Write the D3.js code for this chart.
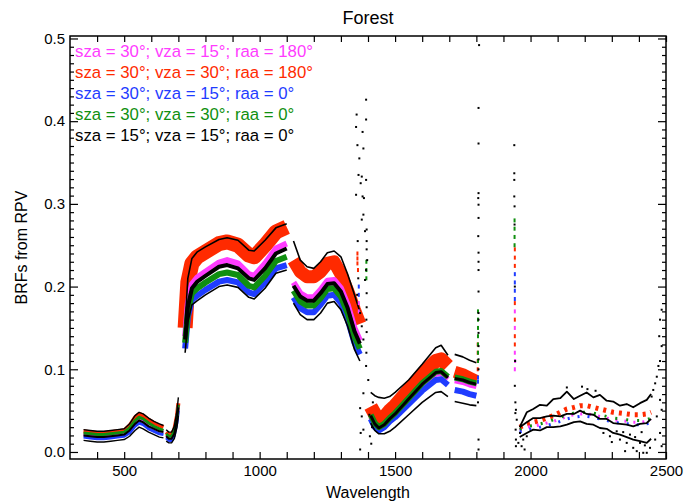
<!DOCTYPE html>
<html>
<head>
<meta charset="utf-8">
<script src="https://cdn.jsdelivr.net/npm/d3@7"></script>
<style>
  html, body { margin: 0; padding: 0; background: #fff; }
  svg { display: block; }
  text { font-family: "Liberation Sans", Arial, Helvetica, sans-serif; }
</style>
</head>
<body>
<svg id="chart" width="684" height="502"></svg>
<script>
// Spectral BRF curves (RPV model) for a forest canopy, five geometries.
// Shared wavelength grid (nm) up to 1800 nm; null entries in the value
// arrays break the curves across the water-absorption gaps.
const wl = [
  350, 375, 400, 425, 450, 475, 500, 520, 540, 555, 570, 590, 610, 630, 645,
  650,
  655, 665, 675, 685, 695, 700,
  712,
  725, 735, 750, 770, 800, 850, 880, 920, 960, 980, 1020, 1060, 1100,
  1112,
  1125, 1150, 1175, 1200, 1225, 1250, 1275, 1300, 1325, 1350, 1370,
  1390,
  1410, 1425, 1440, 1460, 1480, 1500, 1550, 1600, 1650, 1670, 1695,
  1708,
  1720, 1750, 1775, 1800
];

const brfPink = [
  0.021, 0.020, 0.019, 0.019, 0.020, 0.021, 0.022, 0.027, 0.035, 0.039, 0.037, 0.032, 0.029, 0.026, 0.025,
  null,
  0.020, 0.017, 0.017, 0.023, 0.040, 0.055,
  null,
  0.140, 0.180, 0.203, 0.211, 0.218, 0.229, 0.232, 0.228, 0.215, 0.213, 0.228, 0.246, 0.252,
  null,
  0.205, 0.192, 0.187, 0.187, 0.196, 0.207, 0.208, 0.198, 0.178, 0.150, 0.135,
  null,
  0.042, 0.032, 0.027, 0.031, 0.038, 0.044, 0.062, 0.080, 0.094, 0.095, 0.088,
  null,
  0.086, 0.084, 0.081, 0.079
];

const brfRed = [
  0.025, 0.024, 0.023, 0.023, 0.024, 0.025, 0.026, 0.032, 0.042, 0.046, 0.044, 0.039, 0.035, 0.032, 0.030,
  null,
  0.024, 0.021, 0.021, 0.027, 0.044, 0.059,
  null,
  0.150, 0.205, 0.228, 0.236, 0.242, 0.252, 0.254, 0.250, 0.238, 0.236, 0.250, 0.266, 0.272,
  null,
  0.232, 0.218, 0.212, 0.212, 0.218, 0.228, 0.230, 0.215, 0.195, 0.172, 0.155,
  null,
  0.055, 0.046, 0.038, 0.042, 0.050, 0.056, 0.075, 0.094, 0.110, 0.112, 0.104,
  null,
  0.097, 0.094, 0.090, 0.086
];

const brfBlue = [
  0.018, 0.017, 0.016, 0.016, 0.017, 0.018, 0.019, 0.023, 0.031, 0.035, 0.033, 0.028, 0.025, 0.022, 0.021,
  null,
  0.017, 0.014, 0.014, 0.020, 0.036, 0.050,
  null,
  0.125, 0.163, 0.184, 0.189, 0.196, 0.206, 0.208, 0.205, 0.193, 0.191, 0.205, 0.222, 0.226,
  null,
  0.187, 0.174, 0.169, 0.169, 0.178, 0.189, 0.190, 0.180, 0.160, 0.132, 0.118,
  null,
  0.040, 0.030, 0.026, 0.030, 0.037, 0.042, 0.058, 0.074, 0.087, 0.088, 0.081,
  null,
  0.075, 0.073, 0.070, 0.068
];

const brfGreen = [
  0.023, 0.022, 0.021, 0.021, 0.022, 0.023, 0.024, 0.029, 0.038, 0.042, 0.040, 0.035, 0.031, 0.028, 0.026,
  null,
  0.022, 0.019, 0.019, 0.025, 0.042, 0.057,
  null,
  0.132, 0.170, 0.192, 0.198, 0.205, 0.215, 0.217, 0.214, 0.201, 0.199, 0.213, 0.231, 0.236,
  null,
  0.195, 0.182, 0.177, 0.177, 0.186, 0.197, 0.198, 0.188, 0.168, 0.140, 0.125,
  null,
  0.045, 0.035, 0.030, 0.034, 0.041, 0.047, 0.065, 0.083, 0.097, 0.098, 0.091,
  null,
  0.090, 0.088, 0.085, 0.083
];

// The sza=15 / vza=15 / raa=0 curves show up as three traces.
const brfBlackTop = [
  0.027, 0.026, 0.025, 0.025, 0.026, 0.027, 0.028, 0.034, 0.044, 0.048, 0.046, 0.041, 0.037, 0.034, 0.032,
  null,
  0.027, 0.024, 0.024, 0.031, 0.050, 0.066,
  null,
  0.155, 0.210, 0.234, 0.242, 0.248, 0.257, 0.259, 0.256, 0.244, 0.243, 0.256, 0.271, 0.276,
  null,
  0.255, 0.232, 0.224, 0.222, 0.230, 0.241, 0.243, 0.236, 0.215, 0.190, 0.170,
  null,
  0.072, 0.068, 0.066, 0.065, 0.067, 0.072, 0.087, 0.106, 0.126, 0.129, 0.117,
  null,
  0.118, 0.115, 0.111, 0.108
];

const brfBlackMid = [
  0.020, 0.019, 0.018, 0.018, 0.019, 0.020, 0.021, 0.026, 0.034, 0.038, 0.036, 0.031, 0.028, 0.025, 0.024,
  null,
  0.019, 0.016, 0.016, 0.022, 0.039, 0.054,
  null,
  0.136, 0.175, 0.198, 0.206, 0.213, 0.224, 0.226, 0.222, 0.210, 0.208, 0.222, 0.240, 0.246,
  null,
  0.201, 0.188, 0.183, 0.183, 0.192, 0.203, 0.204, 0.194, 0.174, 0.146, 0.131,
  null,
  0.044, 0.034, 0.029, 0.033, 0.040, 0.046, 0.064, 0.082, 0.096, 0.097, 0.090,
  null,
  0.089, 0.087, 0.084, 0.082
];

const brfBlackLow = [
  0.014, 0.013, 0.012, 0.012, 0.013, 0.014, 0.015, 0.019, 0.026, 0.030, 0.028, 0.024, 0.021, 0.018, 0.017,
  null,
  0.013, 0.011, 0.011, 0.016, 0.030, 0.044,
  null,
  0.120, 0.157, 0.178, 0.183, 0.190, 0.200, 0.202, 0.199, 0.187, 0.185, 0.198, 0.216, 0.220,
  null,
  0.180, 0.166, 0.160, 0.160, 0.168, 0.180, 0.182, 0.172, 0.152, 0.124, 0.110,
  null,
  0.035, 0.026, 0.022, 0.022, 0.025, 0.030, 0.045, 0.060, 0.072, 0.073, 0.067,
  null,
  0.061, 0.059, 0.057, 0.056
];

// Second short-wave infrared window (noisy), on its own grid.
const wl2 = [1960, 1986, 2010, 2035, 2060, 2084, 2110, 2134, 2160, 2183, 2207, 2232, 2256, 2281, 2305, 2330, 2355, 2379, 2404, 2429, 2445];
const swirBlackTop = [0.030, 0.048, 0.052, 0.057, 0.056, 0.064, 0.065, 0.073, 0.064, 0.068, 0.072, 0.066, 0.069, 0.062, 0.061, 0.056, 0.058, 0.054, 0.059, 0.063, 0.070];
const swirBlackMid = [0.030, 0.036, 0.041, 0.041, 0.043, 0.044, 0.043, 0.046, 0.046, 0.050, 0.046, 0.045, 0.040, 0.040, 0.035, 0.034, 0.033, 0.031, 0.034, 0.035, 0.040];
const swirBlackLow = [0.018, 0.023, 0.027, 0.026, 0.030, 0.030, 0.031, 0.033, 0.036, 0.037, 0.034, 0.033, 0.029, 0.028, 0.023, 0.021, 0.018, 0.015, 0.013, 0.011, 0.016];
const swirRed   = [0.030, 0.034, 0.036, 0.038, 0.041, 0.044, 0.048, 0.052, 0.054, 0.056, 0.056, 0.054, 0.052, 0.050, 0.048, 0.047, 0.046, 0.045, 0.045, 0.046, 0.048];
const swirPink  = [0.026, 0.030, 0.031, 0.033, 0.035, 0.037, 0.040, 0.043, 0.045, 0.046, 0.046, 0.045, 0.043, 0.041, 0.039, 0.038, 0.037, 0.036, 0.036, 0.037, 0.039];
const swirGreen = [0.027, 0.031, 0.032, 0.034, 0.036, 0.039, 0.042, 0.045, 0.047, 0.048, 0.048, 0.047, 0.045, 0.043, 0.041, 0.040, 0.039, 0.038, 0.038, 0.039, 0.041];
const swirBlue  = [0.024, 0.027, 0.028, 0.030, 0.032, 0.034, 0.037, 0.040, 0.042, 0.043, 0.043, 0.042, 0.040, 0.038, 0.036, 0.035, 0.034, 0.033, 0.033, 0.034, 0.036];

// Isolated retrievals inside the absorption bands: [wavelength, BRF].
const strayBlack = [
  [1358, 0.408], [1393, 0.426], [1356, 0.393], [1380, 0.387], [1393, 0.402], [1383, 0.367],
  [1361, 0.371], [1368, 0.355], [1365, 0.335], [1377, 0.333], [1373, 0.325], [1393, 0.329],
  [1356, 0.311], [1380, 0.309], [1385, 0.307], [1383, 0.287], [1377, 0.281], [1389, 0.267],
  [1395, 0.269], [1395, 0.255], [1395, 0.245], [1397, 0.232], [1393, 0.220], [1389, 0.208],
  [1395, 0.192], [1395, 0.175], [1394, 0.160], [1395, 0.145], [1371, 0.168], [1377, 0.152],
  [1383, 0.136], [1394, 0.120], [1393, 0.104], [1401, 0.087], [1383, 0.071], [1371, 0.053],
  [1377, 0.043], [1383, 0.027], [1373, 0.023], [1407, 0.019], [1371, 0.003], [1362, 0.255],
  [1364, 0.210], [1360, 0.190], [1412, 0.010], [1415, 0.030], [1405, 0.045], [1418, 0.060],
  [1810, 0.492], [1808, 0.416], [1808, 0.373], [1808, 0.313], [1807, 0.307], [1808, 0.299],
  [1808, 0.283], [1807, 0.261], [1808, 0.241], [1808, 0.230], [1808, 0.220], [1808, 0.194],
  [1808, 0.168], [1808, 0.160], [1808, 0.144], [1808, 0.128], [1808, 0.112], [1808, 0.100],
  [1806, 0.060], [1808, 0.015], [1808, 0.003],
  [1940, 0.337], [1940, 0.371], [1940, 0.329], [1940, 0.309], [1941, 0.297], [1941, 0.275],
  [1942, 0.200], [1943, 0.110], [1942, 0.080], [1944, 0.060], [1944, 0.047], [1945, 0.027],
  [1946, 0.015], [1946, 0.007], [1949, 0.039], [1946, 0.051],
  [1961, 0.023], [1955, 0.011], [1973, 0.015], [1986, 0.019], [1967, 0.007], [1978, 0.003],
  [2134, 0.078], [2190, 0.079], [2210, 0.076], [2240, 0.074],
  [2269, 0.023], [2293, 0.019], [2318, 0.025], [2330, 0.015], [2355, 0.011], [2367, 0.021],
  [2379, 0.005], [2392, 0.001], [2404, 0.011], [2416, -0.001], [2349, 0.001], [2300, 0.012],
  [2342, 0.024], [2386, 0.018], [2410, 0.024], [2422, 0.008],
  [2484, 0.172], [2478, 0.160], [2475, 0.140], [2484, 0.128], [2478, 0.110], [2472, 0.104],
  [2466, 0.091], [2460, 0.083], [2453, 0.075], [2447, 0.067], [2478, 0.063], [2484, 0.051],
  [2466, 0.043], [2478, 0.023], [2460, 0.015], [2484, 0.007], [2441, 0.005], [2429, -0.001]
];
const strayRed   = [[1361, 0.240], [1361, 0.234], [1361, 0.228], [1363, 0.220], [1805, 0.130], [1805, 0.120], [1805, 0.110], [1805, 0.100],
                    [1942, 0.245], [1942, 0.235], [1942, 0.225], [1942, 0.180], [1942, 0.160], [1942, 0.140], [1942, 0.130]];
const strayGreen = [[1806, 0.170], [1806, 0.160], [1806, 0.150], [1806, 0.140], [1806, 0.130], [1806, 0.120], [1806, 0.110],
                    [1941, 0.280], [1941, 0.270], [1941, 0.260], [1941, 0.250], [1394, 0.230], [1394, 0.220], [1394, 0.210]];
const strayBlue  = [[1942, 0.215], [1942, 0.205], [1942, 0.195], [1942, 0.185], [1806, 0.090], [1806, 0.085], [1366, 0.200], [1366, 0.190]];
const strayPink  = [[1942, 0.170], [1942, 0.150], [1942, 0.120], [1942, 0.100], [1366, 0.180], [1366, 0.170], [1943, 0.110]];

const legendLabels = [
  "sza = 30°; vza = 15°; raa = 180°",
  "sza = 30°; vza = 30°; raa = 180°",
  "sza = 30°; vza = 15°; raa = 0°",
  "sza = 30°; vza = 30°; raa = 0°",
  "sza = 15°; vza = 15°; raa = 0°"
];
const xTicks = [500, 1000, 1500, 2000, 2500];
const yTicks = [0.0, 0.1, 0.2, 0.3, 0.4, 0.5];

const colors = { pink: "#ff3cff", red: "#ff2a00", blue: "#1f3cff", green: "#0f8f0f", black: "#000000" };

// Drawn thickness of each curve, per spectral window
// (visible, red edge, NIR, NIR 2, SWIR 1a, SWIR 1b).
const widthRed   = [4, 4, 15, 13, 14, 12];
const widthPink  = [3, 3, 6, 6, 5, 5];
const widthBlue  = [3, 3, 6, 6, 6, 6];
const widthGreen = [3, 3, 6, 6, 6, 6];
const widthBlackMid = [2, 2, 4, 4, 3, 3];
const widthBlackEdge = [1.4, 1.4, 1.6, 1.6, 1.6, 1.6];

const svg = d3.select("#chart");
const plotL = 70, plotR = 666, plotT = 36, plotB = 459;

const x = d3.scaleLinear().domain([300, 2500]).range([plotL, plotR]);
const y = d3.scaleLinear().domain([-0.0085, 0.503]).range([plotB, plotT]);

svg.append("defs").append("clipPath").attr("id", "clip")
  .append("rect").attr("x", plotL).attr("y", plotT).attr("width", plotR - plotL).attr("height", plotB - plotT);
const plot = svg.append("g").attr("clip-path", "url(#clip)");

const line = d3.line()
  .x(d => x(d[0]))
  .y(d => y(d[1]));

// Split a curve into its spectral windows at the null entries.
function windows(xs, ys) {
  const out = [];
  let cur = [];
  xs.forEach((w, i) => {
    if (ys[i] === null) { if (cur.length) out.push(cur); cur = []; }
    else cur.push([w, ys[i]]);
  });
  if (cur.length) out.push(cur);
  return out;
}

function curve(xs, ys, color, widths) {
  windows(xs, ys).forEach((seg, k) => {
    plot.append("path")
      .datum(seg)
      .attr("d", line)
      .attr("fill", "none")
      .attr("stroke", color)
      .attr("stroke-width", widths[k])
      .attr("stroke-linejoin", "round");
  });
}

function swirCurve(ys, color, width, dash) {
  plot.append("path")
    .datum(wl2.map((w, i) => [w, ys[i]]))
    .attr("d", line)
    .attr("fill", "none")
    .attr("stroke", color)
    .attr("stroke-width", width)
    .attr("stroke-dasharray", dash)
    .attr("stroke-linejoin", "round");
}

// Plot order follows the legend: pink, red, blue, green, then black.
curve(wl, brfRed, colors.red, widthRed);
curve(wl, brfPink, colors.pink, widthPink);
curve(wl, brfBlue, colors.blue, widthBlue);
curve(wl, brfGreen, colors.green, widthGreen);
curve(wl, brfBlackMid, colors.black, widthBlackMid);
curve(wl, brfBlackTop, colors.black, widthBlackEdge);
curve(wl, brfBlackLow, colors.black, widthBlackEdge);

swirCurve(swirRed, colors.red, 5, "3 5");
swirCurve(swirPink, colors.pink, 3, "2 7");
swirCurve(swirGreen, colors.green, 3, "2 9");
swirCurve(swirBlue, colors.blue, 3, "2 8");
swirCurve(swirBlackTop, colors.black, 1.8, null);
swirCurve(swirBlackMid, colors.black, 1.8, null);
swirCurve(swirBlackLow, colors.black, 1.8, null);

function dots(list, color, w, h) {
  plot.append("g").selectAll("rect").data(list).join("rect")
    .attr("x", d => x(d[0]) - w / 2)
    .attr("y", d => y(d[1]) - h / 2)
    .attr("width", w)
    .attr("height", h)
    .attr("fill", color);
}
dots(strayRed, colors.red, 2, 4);
dots(strayGreen, colors.green, 2, 4);
dots(strayBlue, colors.blue, 2, 4);
dots(strayPink, colors.pink, 2, 4);
dots(strayBlack, colors.black, 2, 2);

// Frame with inward ticks on all four sides.
const axisColor = "#000";
function styleAxis(g) {
  g.select(".domain").remove();
  g.selectAll("line").attr("stroke", axisColor).attr("stroke-width", 1.2);
  g.selectAll("text").attr("fill", "#000").attr("font-size", 15)
    .attr("font-family", "Liberation Sans, Arial, sans-serif");
}
const xMinor = d3.range(400, 2500, 100).filter(v => v % 500 !== 0);
const yMinor = d3.range(0, 0.5001, 0.01).map(v => +v.toFixed(2)).filter(v => Math.round(v * 100) % 10 !== 0);

svg.append("g").attr("transform", `translate(0,${plotB})`)
  .call(d3.axisBottom(x).tickValues(xTicks).tickSize(-7).tickPadding(6).tickFormat(d3.format("d")))
  .call(styleAxis);
svg.append("g").attr("transform", `translate(0,${plotB})`)
  .call(d3.axisBottom(x).tickValues(xMinor).tickSize(-7).tickFormat(""))
  .call(styleAxis);
svg.append("g").attr("transform", `translate(0,${plotT})`)
  .call(d3.axisTop(x).tickValues(xTicks.concat(xMinor)).tickSize(-6).tickFormat(""))
  .call(styleAxis);
svg.append("g").attr("transform", `translate(${plotL},0)`)
  .call(d3.axisLeft(y).tickValues(yTicks).tickSize(-8).tickPadding(5).tickFormat(d3.format(".1f")))
  .call(styleAxis);
svg.append("g").attr("transform", `translate(${plotL},0)`)
  .call(d3.axisLeft(y).tickValues(yMinor).tickSize(-4).tickFormat(""))
  .call(styleAxis);
svg.append("g").attr("transform", `translate(${plotR},0)`)
  .call(d3.axisRight(y).tickValues(yTicks).tickSize(-8).tickFormat(""))
  .call(styleAxis);
svg.append("g").attr("transform", `translate(${plotR},0)`)
  .call(d3.axisRight(y).tickValues(yMinor).tickSize(-4).tickFormat(""))
  .call(styleAxis);

svg.append("rect")
  .attr("x", plotL).attr("y", plotT).attr("width", plotR - plotL).attr("height", plotB - plotT)
  .attr("fill", "none").attr("stroke", axisColor).attr("stroke-width", 1.5);

// Titles
svg.append("text").attr("x", (plotL + plotR) / 2).attr("y", 24)
  .attr("text-anchor", "middle").attr("font-size", 18).text("Forest");
svg.append("text").attr("x", (plotL + plotR) / 2).attr("y", 498)
  .attr("text-anchor", "middle").attr("font-size", 16).text("Wavelength");
svg.append("text")
  .attr("transform", `translate(27,${(plotT + plotB) / 2}) rotate(-90)`)
  .attr("text-anchor", "middle").attr("font-size", 16).text("BRFs from RPV");

// Legend
const legendColors = [colors.pink, colors.red, colors.blue, colors.green, colors.black];
svg.append("g").selectAll("text").data(legendLabels).join("text")
  .attr("x", 75)
  .attr("y", (d, i) => 57 + i * 21)
  .attr("font-size", 16.8)
  .attr("fill", (d, i) => legendColors[i])
  .text(d => d);
</script>
</body>
</html>
